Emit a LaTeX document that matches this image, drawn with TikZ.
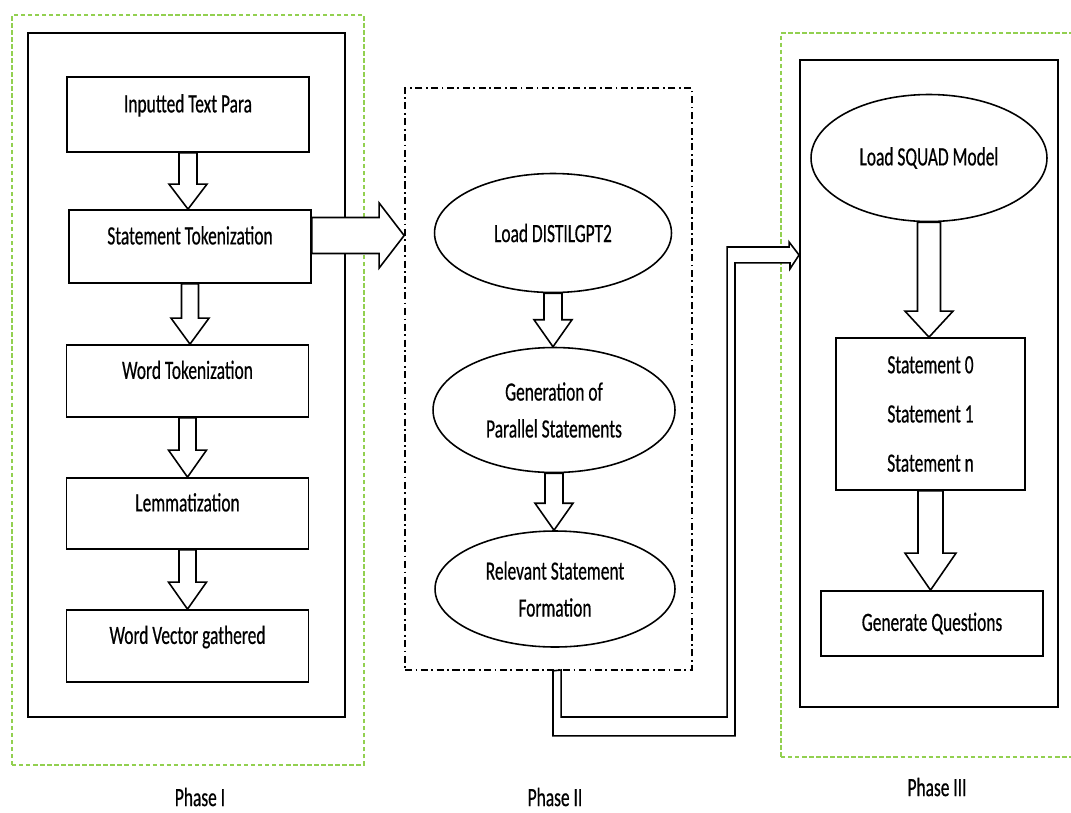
\documentclass[tikz,border=0pt]{standalone}
\usepackage{fontspec}
\setmainfont{Carlito}[FakeStretch=0.66, FakeBold=0.5]
\usepackage{tikz}
\usetikzlibrary{shapes.geometric}
\usetikzlibrary{calc}

\definecolor{phasegreen}{RGB}{146,208,80}

\tikzset{
  stepbox/.style={draw, line width=1pt, minimum width=4.84cm, text height=1.5ex, text depth=2ex},
  stepoval/.style={draw, ellipse, line width=0.9pt, align=center},
  blockarrow/.style={draw, fill=white, line width=0.9pt, line join=miter},
  phasebox/.style={draw, line width=1.3pt},
  greenbox/.style={draw=phasegreen, line width=0.7pt, dash pattern=on 2.5pt off 1.5pt},
}

% hollow arrow pointing down from one node to the next
\newcommand{\blockdown}[5]{%
  \draw[blockarrow] let \p1=(#1.south), \p2=(#2.north) in
    (\x1-#3,\y1) -- (\x1-#3,\y2+#5) -- (\x1-#4,\y2+#5) -- (\x1,\y2)
    -- (\x1+#4,\y2+#5) -- (\x1+#3,\y2+#5) -- (\x1+#3,\y1) -- cycle;}

\begin{document}
\begin{tikzpicture}[x=0.02cm, y=-0.02cm, font=\fontsize{15}{18}\selectfont]
\useasboundingbox (0,0) rectangle (1071,812);

% Phase I
\node[greenbox, minimum width=7.04cm, minimum height=15cm] (green1) at (188,390) {};
\node[phasebox, minimum width=6.34cm, minimum height=13.68cm] (phase1) at (186.5,375) {};
\node[stepbox, minimum height=1.5cm] (intp) at (188,114.5) {Inputted Text Para};
\node[stepbox, minimum height=1.46cm] (stok) at (190,246.5) {Statement Tokenization};
\node[stepbox, minimum height=1.44cm] (wtok) at (187.5,381) {Word Tokenization};
\node[stepbox, minimum height=1.42cm] (lemm) at (187.5,513.5) {Lemmatization};
\node[stepbox, minimum height=1.44cm] (wvec) at (187.5,646) {Word Vector gathered};
\blockdown{intp}{stok}{0.18cm}{0.38cm}{0.5cm}
\blockdown{stok}{wtok}{0.17cm}{0.38cm}{0.52cm}
\blockdown{wtok}{lemm}{0.17cm}{0.38cm}{0.54cm}
\blockdown{lemm}{wvec}{0.17cm}{0.38cm}{0.54cm}
\node (lab1) at (200,797) {Phase I};

% Phase II
\node[draw, line width=1pt, dash pattern=on 4pt off 2pt on 1pt off 2pt,
  minimum width=5.74cm, minimum height=11.64cm] (phase2) at (548.5,379) {};
\node[stepoval, minimum width=4.74cm, minimum height=2.38cm] (dgpt) at (553,233) {Load DISTILGPT2};
\node[stepoval, minimum width=4.84cm, minimum height=2.5cm] (gen) at (554,410) {Generation of\\[3pt]Parallel Statements};
\node[stepoval, minimum width=4.8cm, minimum height=2.32cm] (relv) at (555,589) {Relevant Statement\\[3pt]Formation};
\blockdown{dgpt}{gen}{0.18cm}{0.38cm}{0.54cm}
\blockdown{gen}{relv}{0.18cm}{0.38cm}{0.54cm}
\node (lab2) at (555,797) {Phase II};

\draw[blockarrow] let \p1=(stok.east), \p2=(phase2.west) in
  (\x1,\y1+0.58cm) -- (\x2-0.5cm,\y1+0.58cm) -- (\x2-0.5cm,\y1+0.87cm) -- (\x2,\y1+0.22cm)
  -- (\x2-0.5cm,\y1-0.43cm) -- (\x2-0.5cm,\y1-0.14cm) -- (\x1,\y1-0.14cm) -- cycle;

% Phase III
\node[greenbox, minimum width=5.88cm, minimum height=14.48cm] (green3) at (928,395) {};
\node[phasebox, line width=1.1pt, minimum width=5.16cm, minimum height=12.94cm] (phase3) at (929,383.5) {};
\node[stepoval, minimum width=4.72cm, minimum height=2.54cm] (squad) at (929,158) {Load SQUAD Model};
\node[draw, line width=1pt, align=center, minimum width=3.78cm, minimum height=3.04cm] (stmts) at (930.5,414)
  {Statement 0\\[10pt]Statement 1\\[10pt]Statement n};
\node[draw, line width=1pt, minimum width=4.44cm, minimum height=1.3cm] (genq) at (932,623.5) {Generate Questions};
\blockdown{squad}{stmts}{0.23cm}{0.48cm}{0.52cm}
\blockdown{stmts}{genq}{0.25cm}{0.51cm}{0.74cm}
\node (lab3) at (937,787) {Phase III};

% pipe from Phase II into Phase III
\coordinate (p2out) at (phase2.south -| relv.south);
\coordinate (p3in) at (phase3.west |- 0,255);
\draw[blockarrow] (p2out) ++(-2,0) -- ++(0,65) -- ++(182,0) -- ++(0,-473) -- ++(55,0)
  -- ++(0,6) -- (p3in) -- ++(-10,-13) -- ++(0,5) -- ++(-62,0) -- ++(0,470)
  -- ++(-166,0) -- ++(0,-47) -- cycle;
\end{tikzpicture}
\end{document}
